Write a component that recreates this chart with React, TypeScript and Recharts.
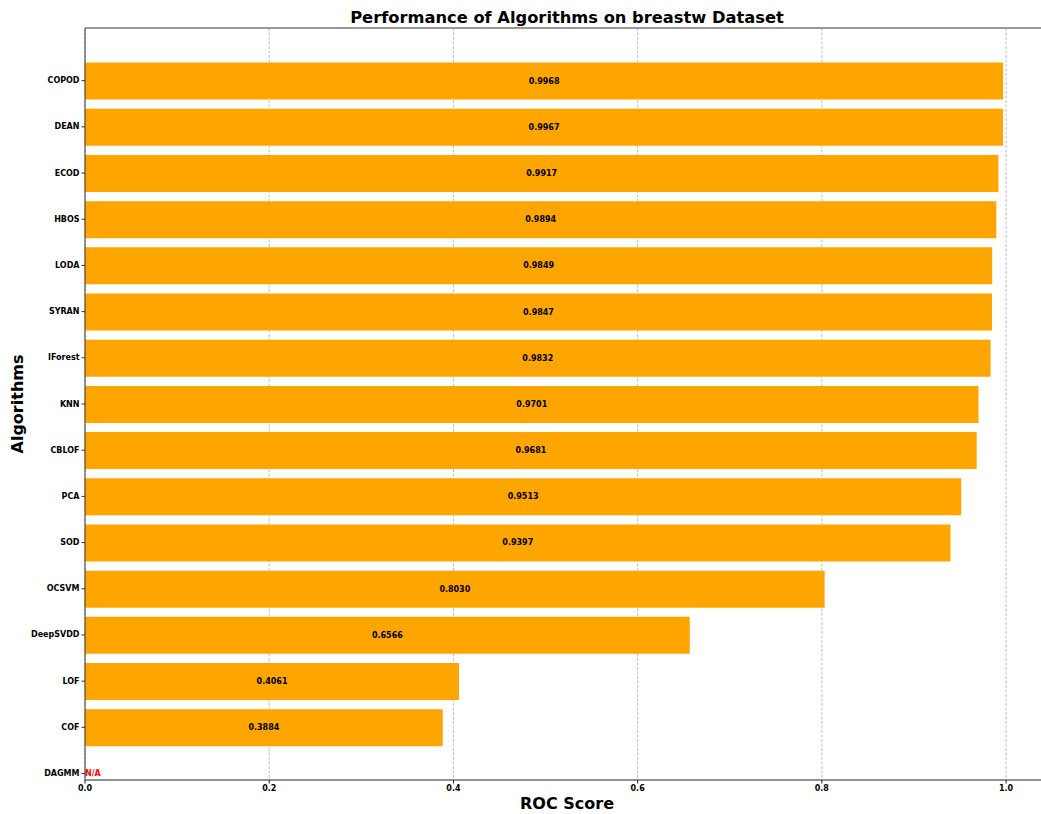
import { BarChart, Bar, XAxis, YAxis, CartesianGrid, LabelList, ReferenceLine } from "recharts";

const algorithms = [
  "COPOD", "DEAN", "ECOD", "HBOS", "LODA", "SYRAN", "IForest", "KNN",
  "CBLOF", "PCA", "SOD", "OCSVM", "DeepSVDD", "LOF", "COF", "DAGMM",
];

// DAGMM has no score for this dataset
const rocScores: (number | null)[] = [
  0.9968, 0.9967, 0.9917, 0.9894, 0.9849, 0.9847, 0.9832, 0.9701,
  0.9681, 0.9513, 0.9397, 0.803, 0.6566, 0.4061, 0.3884, null,
];

const xTicks = [0, 0.2, 0.4, 0.6, 0.8, 1.0];

const FONT = "DejaVu Sans, sans-serif";
const TICK_SIZE = 3.5;
const TICK_MARGIN = 2;

const data = algorithms.map((name, i) => ({ name, pos: i, score: rocScores[i] }));
const yTicks = algorithms.map((_, i) => i);

function ValueLabel(props: any) {
  const { x, y, width, height, value } = props;
  if (value === null || value === undefined) return null;
  return (
    <text
      x={Number(x) + Number(width) / 2}
      y={Number(y) + Number(height) / 2}
      fontFamily={FONT}
      fontSize={8}
      fontWeight="bold"
      fill="#000"
      textAnchor="middle"
      dominantBaseline="central"
    >
      {Number(value).toFixed(4)}
    </text>
  );
}

// algorithm name on the left, plus a red N/A next to the axis when there is no score
function AlgoTick(props: any) {
  const { x, y, payload } = props;
  const idx = payload.value as number;
  const axisX = Number(x) + TICK_SIZE + TICK_MARGIN;
  return (
    <g>
      <text x={x} y={y} textAnchor="end" dominantBaseline="central" fontFamily={FONT} fontSize={8} fontWeight="bold" fill="#000">
        {algorithms[idx]}
      </text>
      {rocScores[idx] === null && (
        <text x={axisX} y={y} dominantBaseline="central" fontFamily={FONT} fontSize={8} fontWeight="bold" fill="#ff0000">
          N/A
        </text>
      )}
    </g>
  );
}

export default function App() {
  const tickStyle = { fontFamily: FONT, fontSize: 8, fontWeight: "bold", fill: "#000" };
  return (
    <div style={{ position: "absolute", left: 0, top: 0, width: 1041, height: 814, overflow: "hidden", background: "#fff" }}>
      <BarChart
        layout="vertical"
        width={1060}
        height={814}
        data={data}
        margin={{ top: 28, right: 11, bottom: 0, left: 0 }}
      >
        <CartesianGrid horizontal={false} stroke="#b0b0b0" strokeDasharray="3 1.5" strokeWidth={0.8} />
        <XAxis
          type="number"
          dataKey="score"
          domain={[0, 1.0466]}
          ticks={xTicks}
          tickFormatter={(v: number) => v.toFixed(1)}
          tick={tickStyle}
          tickSize={TICK_SIZE}
          tickMargin={TICK_MARGIN}
          height={34}
          stroke="#222"
          allowDataOverflow
        />
        <YAxis
          type="number"
          dataKey="pos"
          domain={[-1.14, 15.14]}
          ticks={yTicks}
          interval={0}
          tick={<AlgoTick />}
          tickSize={TICK_SIZE}
          tickMargin={TICK_MARGIN}
          width={85}
          stroke="#333"
          allowDataOverflow
        />
        <ReferenceLine y={-1.14} stroke="#777" strokeWidth={1.5} />
        <Bar dataKey="score" fill="#ffa500" barSize={37} isAnimationActive={false}>
          <LabelList dataKey="score" content={ValueLabel} />
        </Bar>
        <text x={567} y={23} textAnchor="middle" fontFamily={FONT} fontSize={16.3} fontWeight="bold" fill="#000">
          Performance of Algorithms on breastw Dataset
        </text>
        <text x={567} y={809} textAnchor="middle" fontFamily={FONT} fontSize={16} fontWeight="bold" fill="#000">
          ROC Score
        </text>
        <text
          x={23}
          y={404}
          textAnchor="middle"
          transform="rotate(-90, 23, 404)"
          fontFamily={FONT}
          fontSize={16}
          fontWeight="bold"
          fill="#000"
        >
          Algorithms
        </text>
      </BarChart>
    </div>
  );
}
